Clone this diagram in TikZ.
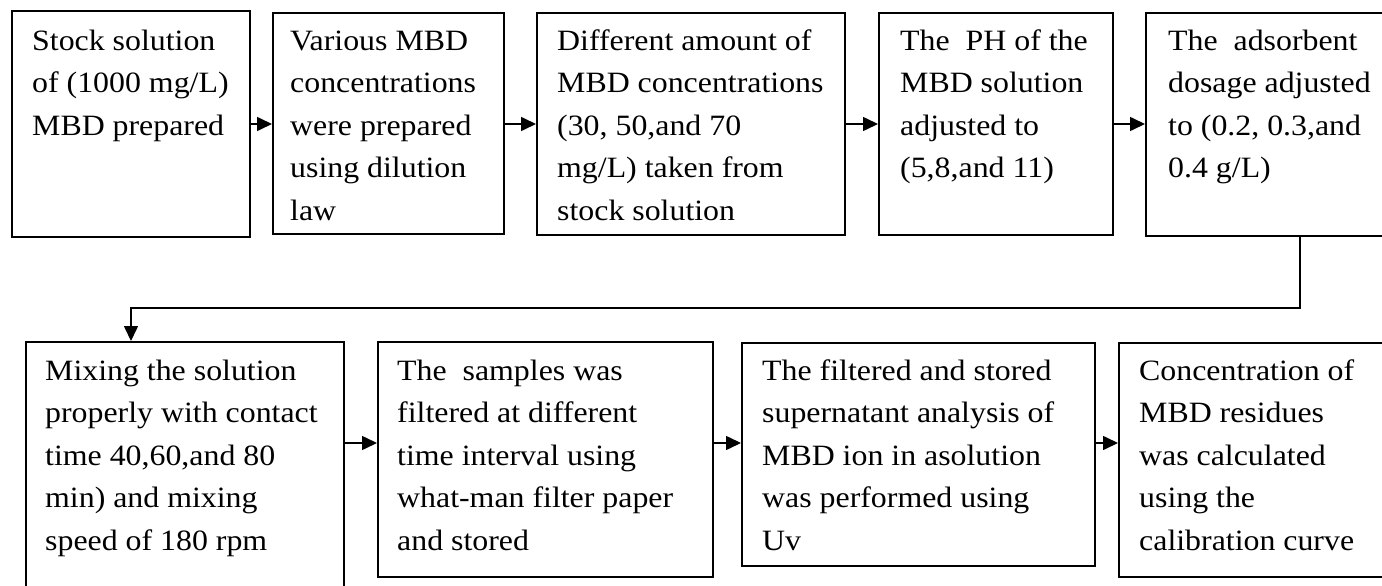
\documentclass[tikz,border=0pt]{standalone}
\usepackage{fontspec}
\setmainfont[FakeStretch=1.08]{Liberation Serif}
\usetikzlibrary{arrows.meta,calc}
\tikzset{
  stepbox/.style={draw,line width=1.8pt,inner sep=0pt,anchor=north west},
  txt/.style={anchor=north west,inner sep=0pt,align=left,
    font=\fontsize{29.5}{42.5}\selectfont},
  arr/.style={line width=1.6pt,-{Triangle[length=15pt,width=14pt]}},
}
\newcommand{\fs}{\rule{0pt}{24pt}}
\begin{document}
\begin{tikzpicture}[x=1pt,y=-1pt]
\useasboundingbox (0,0) rectangle (1382,586);
\fill[white] (0,0) rectangle (1382,586);
\clip (0,0) rectangle (1382,586);
% top row boxes
\node[stepbox,minimum width=238pt,minimum height=226pt] (b1) at (11,10) {};
\node[stepbox,minimum width=231pt,minimum height=221pt] (b2) at (272,12) {};
\node[stepbox,minimum width=308pt,minimum height=222pt] (b3) at (536,12) {};
\node[stepbox,minimum width=234pt,minimum height=222pt] (b4) at (878,12) {};
\node[stepbox,minimum width=260pt,minimum height=223pt] (b5) at (1145,12) {};
% bottom row boxes
\node[stepbox,minimum width=318pt,minimum height=260pt] (b6) at (25,341) {};
\node[stepbox,minimum width=335pt,minimum height=235pt] (b7) at (377,341) {};
\node[stepbox,minimum width=353pt,minimum height=223pt] (b8) at (741,342) {};
\node[stepbox,minimum width=290pt,minimum height=234pt] (b9) at (1118,342) {};
% texts
\node[txt] (t1) at ($(b1.north west)+(21,16)$) {\fs Stock solution\\ of (1000 mg/L)\\ MBD prepared};
\node[txt] (t2) at ($(b2.north west)+(18,14)$) {\fs Various MBD\\ concentrations\\ were prepared\\ using dilution\\ law};
\node[txt] (t3) at ($(b3.north west)+(21,14)$) {\fs Different amount of\\ MBD concentrations\\ (30, 50,and 70\\ mg/L) taken from\\ stock solution};
\node[txt] (t4) at ($(b4.north west)+(22,14)$) {\fs The\ \ PH of the\\ MBD solution\\ adjusted to\\ (5,8,and 11)};
\node[txt] (t5) at ($(b5.north west)+(23,14)$) {\fs The\ \ adsorbent\\ dosage adjusted\\ to (0.2, 0.3,and\\ 0.4 g/L)};
\node[txt] (t6) at ($(b6.north west)+(20,15)$) {\fs Mixing the solution\\ properly with contact\\ time 40,60,and 80\\ min) and mixing\\ speed of 180 rpm};
\node[txt] (t7) at ($(b7.north west)+(20,15)$) {\fs The\ \ samples was\\ filtered at different\\ time interval using\\ what-man filter paper\\ and stored};
\node[txt] (t8) at ($(b8.north west)+(21,14)$) {\fs The filtered and stored\\ supernatant analysis of\\ MBD ion in asolution\\ was performed using\\ Uv};
\node[txt] (t9) at ($(b9.north west)+(21,14)$) {\fs Concentration of\\ MBD residues\\ was calculated\\ using the\\ calibration curve};
% connectors
\coordinate (ty) at (0,124);
\coordinate (ry) at (0,443);
\coordinate (c1) at (1300,308);
\coordinate (c2) at (131,308);
\draw[arr] (b1.east |- ty) -- (b2.west |- ty);
\draw[arr] (b2.east |- ty) -- (b3.west |- ty);
\draw[arr] (b3.east |- ty) -- (b4.west |- ty);
\draw[arr] (b4.east |- ty) -- (b5.west |- ty);
\draw[arr] (b5.south -| c1) |- (c2) -- (b6.north -| c2);
\draw[arr] (b6.east |- ry) -- (b7.west |- ry);
\draw[arr] (b7.east |- ry) -- (b8.west |- ry);
\draw[arr] (b8.east |- ry) -- (b9.west |- ry);
\end{tikzpicture}
\end{document}
